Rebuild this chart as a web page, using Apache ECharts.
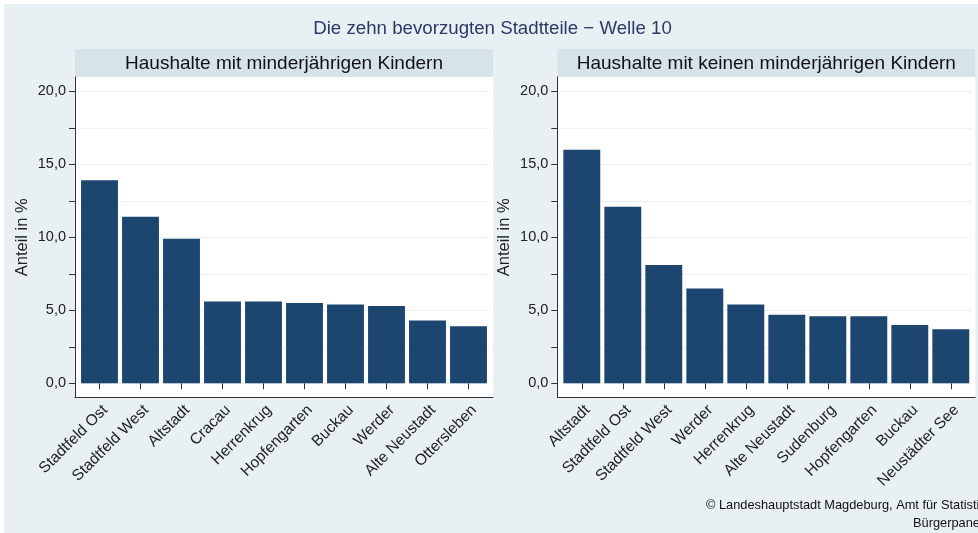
<!DOCTYPE html>
<html>
<head>
<meta charset="utf-8">
<script src="https://cdn.jsdelivr.net/npm/echarts@6/dist/echarts.min.js"></script>
<style>
  html, body { margin: 0; padding: 0; background: #fff; }
  #chart { width: 978px; height: 533px; }
</style>
</head>
<body>
<div id="chart"></div>
<script>
// Daten
const leftCats = ['Stadtfeld Ost', 'Stadtfeld West', 'Altstadt', 'Cracau', 'Herrenkrug',
  'Hopfengarten', 'Buckau', 'Werder', 'Alte Neustadt', 'Ottersleben']
const leftVals = [13.9, 11.4, 9.9, 5.6, 5.6, 5.5, 5.4, 5.3, 4.3, 3.9]

const rightCats = ['Altstadt', 'Stadtfeld Ost', 'Stadtfeld West', 'Werder', 'Herrenkrug',
  'Alte Neustadt', 'Sudenburg', 'Hopfengarten', 'Buckau', 'Neustädter See']
const rightVals = [16.0, 12.1, 8.1, 6.5, 5.4, 4.7, 4.6, 4.6, 4.0, 3.7]

const yMin = 0
const yMax = 20
const yStep = 2.5
const yLabelStep = 5

const titleText = 'Die zehn bevorzugten Stadtteile − Welle 10'
const panelTitles = ['Haushalte mit minderjährigen Kindern', 'Haushalte mit keinen minderjährigen Kindern']
const yName = 'Anteil in %'

const FONT = 'Liberation Sans, Arial, sans-serif'
const BAR = '#1c4670'
const BG = '#e9f0f3'
const HEAD = '#d6e3ea'
const AXIS = '#333'

const chart = echarts.init(document.getElementById('chart'))

// Panel-Positionen (Rahmen und Datenbereich)
const panels = [
  { x: 75, cats: leftCats, vals: leftVals },
  { x: 557.3, cats: rightCats, vals: rightVals }
]
const frameTop = 77
const frameH = 320
const frameW = 418
const dataTop = 91.3
const dataH = 292
const pad = 4

const grid = []
const xAxis = []
const yAxis = []
const series = []
const graphic = [
  { type: 'rect', z: -10, shape: { x: 4, y: 4, width: 974, height: 529 }, style: { fill: BG } },
  {
    type: 'text', z: 5, x: 492.5, y: 29,
    style: { text: titleText, fill: '#2b3a67', font: '18.7px ' + FONT, textAlign: 'center', textVerticalAlign: 'middle' }
  }
]

panels.forEach((p, i) => {
  // Rahmen-Grid (nur Achsenlinien)
  grid.push({ left: p.x, top: frameTop, width: frameW, height: frameH })
  // Daten-Grid
  grid.push({ left: p.x + pad, top: dataTop, width: frameW - 2 * pad, height: dataH })

  const gf = i * 2
  const gd = i * 2 + 1

  xAxis.push({
    gridIndex: gf, type: 'value', min: 0, max: 1,
    axisLine: { show: true, lineStyle: { color: AXIS, width: 1 } },
    axisTick: { show: false }, axisLabel: { show: false }, splitLine: { show: false }
  })
  yAxis.push({
    gridIndex: gf, type: 'value', min: 0, max: 1,
    axisLine: { show: true, lineStyle: { color: AXIS, width: 1 } },
    axisTick: { show: false }, axisLabel: { show: false }, splitLine: { show: false }
  })

  xAxis.push({
    gridIndex: gd, type: 'category', data: p.cats,
    offset: frameTop + frameH - (dataTop + dataH),
    axisLine: { show: false },
    axisTick: { show: true, alignWithLabel: true, length: 6, lineStyle: { color: AXIS } },
    axisLabel: {
      rotate: 45, interval: 0, margin: 5, verticalAlign: 'top',
      fontSize: 15.5, color: '#222', fontFamily: FONT
    },
    splitLine: { show: false }
  })
  yAxis.push({
    gridIndex: gd, type: 'value', min: yMin, max: yMax, interval: yStep,
    offset: pad,
    name: yName, nameLocation: 'middle', nameGap: 44,
    nameTextStyle: { fontSize: 16.5, color: '#222', fontFamily: FONT },
    axisLine: { show: false },
    axisTick: { show: true, length: 6, lineStyle: { color: AXIS } },
    axisLabel: {
      margin: 9, fontSize: 14.5, color: '#222', fontFamily: FONT,
      formatter: v => (v % yLabelStep === 0 ? v.toFixed(1).replace('.', ',') : '')
    },
    splitLine: { show: true, lineStyle: { color: '#ebf1f3', width: 1 } }
  })

  series.push({
    type: 'bar', xAxisIndex: gd, yAxisIndex: gd,
    data: p.vals, barCategoryGap: '10%',
    itemStyle: { color: BAR },
    animation: false
  })

  // weisser Plotbereich + Kopfleiste
  graphic.push({
    type: 'rect', z: -5,
    shape: { x: p.x, y: frameTop, width: frameW, height: frameH },
    style: { fill: '#fff' }
  })
  graphic.push({
    type: 'rect', z: -5,
    shape: { x: p.x, y: 49, width: frameW, height: frameTop - 49 },
    style: { fill: HEAD }
  })
  graphic.push({
    type: 'text', z: 5, x: p.x + frameW / 2, y: 63.5,
    style: {
      text: panelTitles[i], fill: '#111', font: '19px ' + FONT,
      textAlign: 'center', textVerticalAlign: 'middle'
    }
  })
})

// Quelle
graphic.push({
  type: 'text', x: 706, y: 505,
  style: { text: '© Landeshauptstadt Magdeburg, Amt für Statistik', fill: '#111', font: '12.8px ' + FONT, textVerticalAlign: 'middle' }
})
graphic.push({
  type: 'text', x: 913, y: 523,
  style: { text: 'Bürgerpanel', fill: '#111', font: '12.8px ' + FONT, textVerticalAlign: 'middle' }
})

const option = {
  animation: false,
  grid,
  xAxis,
  yAxis,
  series,
  graphic
}

chart.setOption(option)
</script>
</body>
</html>
